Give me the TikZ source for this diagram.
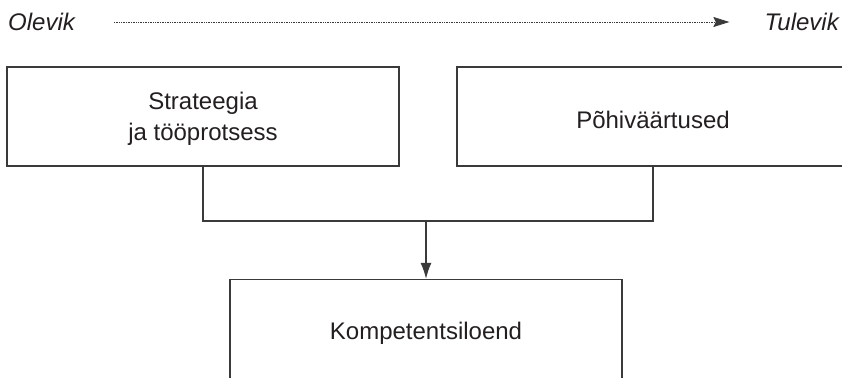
\documentclass[tikz,border=0pt]{standalone}
\usepackage{fontspec}
\setmainfont{Liberation Sans}
\usetikzlibrary{arrows.meta}
\definecolor{ink}{HTML}{231F20}
\definecolor{edge}{HTML}{3A3A3A}
\tikzset{
  box/.style={draw=edge, line width=1.3pt, minimum width=392pt, minimum height=99pt,
    inner sep=0pt},
  boxtext/.style={inner sep=0pt, align=center, text=ink, font=\fontsize{24}{31}\selectfont},
  timelabel/.style={inner sep=0pt, text=ink, font=\fontsize{24}{29}\selectfont\itshape},
  link/.style={draw=edge, line width=1.3pt},
}
\begin{document}
\begin{tikzpicture}[x=1pt,y=-1pt]
\useasboundingbox (0,0) rectangle (842,377);
\clip (0,0) rectangle (842,377);
\node[timelabel, anchor=west] (olevik) at (8,22) {Olevik};
\node[timelabel, anchor=east] (tulevik) at (839,22) {Tulevik};
\draw[line width=0.8pt, draw=edge, dash pattern=on 0.8pt off 0.9pt,
  -{Stealth[length=16pt,width=10pt,inset=2.5pt]}]
  ([xshift=39pt]olevik.east) -- ([xshift=-35pt]tulevik.west);
\node[box] (strat) at (203,116.5) {};
\node[box] (pohi) at (653,116.5) {};
\node[box] (komp) at (426,329) {};
\node[boxtext] (strattext) at ([yshift=-2pt]strat.center) {Strateegia\\ja tööprotsess};
\node[boxtext] (pohitext) at ([yshift=-3pt]pohi.center) {Põhiväärtused};
\node[boxtext] (komptext) at ([yshift=-4pt]komp.center) {Kompetentsiloend};
\coordinate (join) at (komp.north |- 0,221);
\draw[link] (strat.south) |- (join) -| (pohi.south);
\draw[link, -{Latex[length=16pt,width=11pt]}] (join) -- (komp.north);
\end{tikzpicture}
\end{document}
